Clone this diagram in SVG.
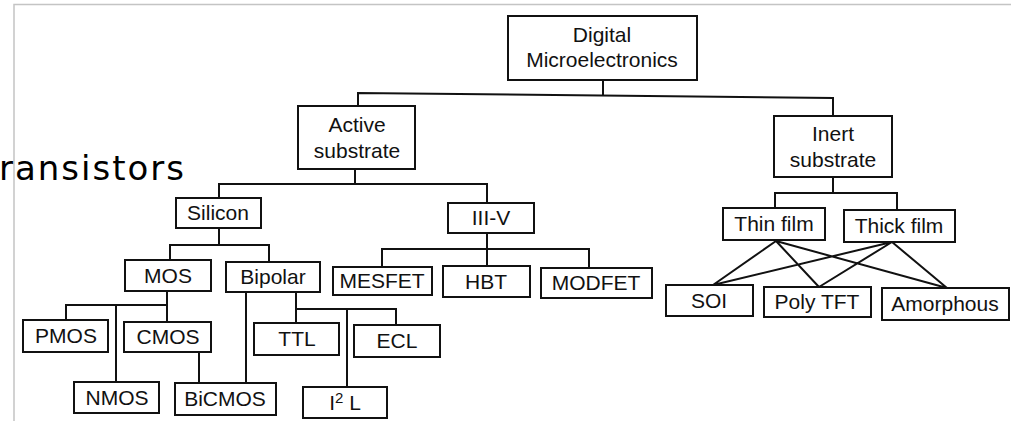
<svg xmlns="http://www.w3.org/2000/svg" width="1011" height="421" viewBox="0 0 1011 421">
<style>
.box{fill:#fff;stroke:#111;stroke-width:2}
.t{font-family:"Liberation Sans",Arial,sans-serif;font-size:21px;fill:#111;text-anchor:middle}
.c{fill:none;stroke:#111;stroke-width:2}
.frame{fill:none;stroke:#c4c4c4;stroke-width:1.5}
</style>
<rect width="1011" height="421" fill="#fff"/>
<path class="frame" d="M14,421 V4.5 H1011"/>
<text x="-1" y="180" font-family="'DejaVu Sans',sans-serif" font-size="34" fill="#000" textLength="185" lengthAdjust="spacing">ransistors</text>
<g id="connectors">
<path class="c" d="M603,80 V95.6"/>
<path class="c" d="M358,106 V93 L833,98 V116"/>
<path class="c" d="M355,169 V184"/>
<path class="c" d="M219,198 V184 H487 V203"/>
<path class="c" d="M219,228 V245"/>
<path class="c" d="M170,260 V245 H269 V262"/>
<path class="c" d="M487,233 V266"/>
<path class="c" d="M382,267 V249 H589 V268"/>
<path class="c" d="M167,291 V322"/>
<path class="c" d="M66,320 V305 H167"/>
<path class="c" d="M116,305 V382"/>
<path class="c" d="M199,352 V383"/>
<path class="c" d="M246,292 V383"/>
<path class="c" d="M296,292 V323"/>
<path class="c" d="M296,309 H396 V325"/>
<path class="c" d="M347,309 V387"/>
<path class="c" d="M833,177 V193"/>
<path class="c" d="M775,208 V193 H897 V210"/>
<path class="c" d="M776,241 L713,285 M776,241 L819,287 M776,241 L947,288 M892,242 L713,285 M892,242 L819,287 M892,242 L947,288"/>
</g>
<g id="digital"><rect class="box" x="508" y="16" width="189" height="64"/><text class="t" x="602" y="42">Digital</text><text class="t" x="602" y="67">Microelectronics</text></g>
<g id="active"><rect class="box" x="298" y="106" width="117" height="63"/><text class="t" x="357" y="132">Active</text><text class="t" x="357" y="158">substrate</text></g>
<g id="inert"><rect class="box" x="774" y="116" width="118" height="61"/><text class="t" x="833" y="141">Inert</text><text class="t" x="833" y="167">substrate</text></g>
<g id="silicon"><rect class="box" x="176" y="198" width="85" height="30"/><text class="t" x="218" y="220">Silicon</text></g>
<g id="iiiv"><rect class="box" x="448" y="203" width="86" height="30"/><text class="t" x="491" y="225">III-V</text></g>
<g id="mos"><rect class="box" x="125" y="260" width="86" height="31"/><text class="t" x="168" y="283">MOS</text></g>
<g id="bipolar"><rect class="box" x="226" y="262" width="94" height="30"/><text class="t" x="273" y="284">Bipolar</text></g>
<g id="mesfet"><rect class="box" x="333" y="267" width="99" height="28"/><text class="t" x="382" y="288">MESFET</text></g>
<g id="hbt"><rect class="box" x="443" y="266" width="87" height="31"/><text class="t" x="486" y="289">HBT</text></g>
<g id="modfet"><rect class="box" x="541" y="268" width="111" height="30"/><text class="t" x="596" y="290">MODFET</text></g>
<g id="pmos"><rect class="box" x="23" y="320" width="85" height="32"/><text class="t" x="66" y="343">PMOS</text></g>
<g id="cmos"><rect class="box" x="124" y="322" width="87" height="30"/><text class="t" x="168" y="344">CMOS</text></g>
<g id="ttl"><rect class="box" x="254" y="323" width="85" height="32"/><text class="t" x="297" y="346">TTL</text></g>
<g id="ecl"><rect class="box" x="354" y="325" width="86" height="32"/><text class="t" x="397" y="348">ECL</text></g>
<g id="nmos"><rect class="box" x="74" y="382" width="85" height="31"/><text class="t" x="117" y="405">NMOS</text></g>
<g id="bicmos"><rect class="box" x="175" y="383" width="101" height="32"/><text class="t" x="225" y="406">BiCMOS</text></g>
<g id="i2l"><rect class="box" x="303" y="387" width="84" height="31"/><text class="t" x="345" y="410">I<tspan font-size="15" dy="-7">2</tspan><tspan dy="7"> L</tspan></text></g>
<g id="thinfilm"><rect class="box" x="723" y="208" width="102" height="32"/><text class="t" x="774" y="231">Thin film</text></g>
<g id="thickfilm"><rect class="box" x="844" y="210" width="111" height="32"/><text class="t" x="899" y="233">Thick film</text></g>
<g id="soi"><rect class="box" x="666" y="285" width="87" height="31"/><text class="t" x="709" y="308">SOI</text></g>
<g id="polytft"><rect class="box" x="764" y="287" width="107" height="30"/><text class="t" x="817" y="309">Poly TFT</text></g>
<g id="amorphous"><rect class="box" x="882" y="288" width="127" height="32"/><text class="t" x="945" y="311">Amorphous</text></g>
</svg>
